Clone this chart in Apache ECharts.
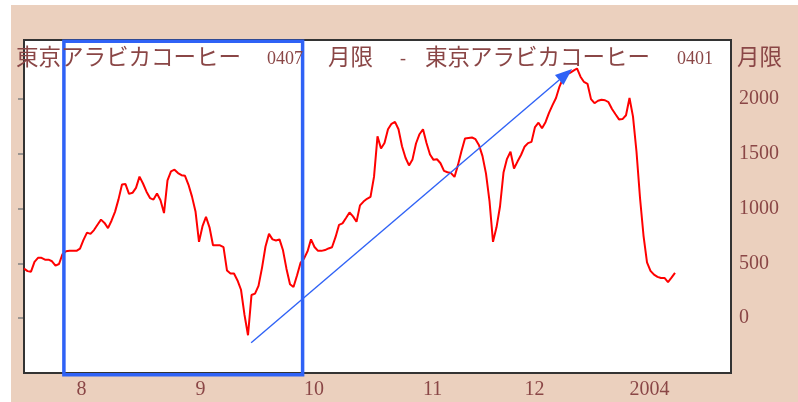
<!DOCTYPE html>
<html>
<head>
<meta charset="utf-8">
<script src="https://cdn.jsdelivr.net/npm/echarts@6/dist/echarts.min.js"></script>
<style>
html,body{margin:0;padding:0;background:#fff;}
#chart{width:798px;height:402px;}
</style>
</head>
<body>
<div id="chart"></div>
<script>
// Price series (one value per period)
const prices = [
  454, 430, 425, 515, 551, 552, 535, 535, 520, 480,
  495, 585, 612, 615, 615, 615, 636, 715, 782, 770,
  805, 853, 900, 870, 823, 890, 971, 1085, 1220, 1225,
  1135, 1145, 1190, 1293, 1230, 1155, 1097, 1083, 1138, 1077,
  960, 1258, 1340, 1356, 1325, 1306, 1300, 1218, 1110, 975,
  697, 840, 925, 830, 666, 666, 666, 650, 435, 408,
  408, 345, 260, 30, -155, 212, 225, 295, 460, 655,
  770, 720, 710, 720, 620, 450, 310, 285, 390, 505,
  545, 610, 720, 650, 615, 615, 622, 637, 648, 740,
  852, 866, 915, 965, 930, 880, 1030, 1065, 1090, 1108,
  1290, 1660, 1550, 1600, 1725, 1775, 1792, 1725, 1570, 1465,
  1395, 1450, 1595, 1680, 1725, 1600, 1495, 1446, 1451, 1415,
  1345, 1333, 1325, 1290, 1400, 1527, 1640, 1645, 1650, 1635,
  1580, 1480, 1320, 1070, 697, 830, 1020, 1330, 1455, 1520,
  1367, 1430, 1490, 1565, 1599, 1610, 1745, 1785, 1735, 1790,
  1875, 1945, 2010, 2115, 2190, 2225, 2240, 2260, 2280, 2205,
  2157, 2140, 2000, 1963, 1985, 1995, 1990, 1972, 1910, 1862,
  1815, 1818, 1853, 2010, 1840, 1520, 1100, 755, 510, 433,
  398, 378, 367, 368, 330, 370, 414
];
// x-axis: period index of each year tick and its label
const xTickPositions = [15, 49, 80, 114, 143, 173];
const xTickLabels = ['8', '9', '10', '11', '12', '2004'];
const xRange = [0, 202];
// y-axis ticks
const yTickValues = [0, 500, 1000, 1500, 2000];
const yRange = [-500, 2540];
// title pieces
const titlePieces = [
  {t: '東京アラビカコーヒー', kind: 'cjk', x: 16},
  {t: '0407', kind: 'num', x: 267},
  {t: '月限', kind: 'cjk', x: 328},
  {t: '-', kind: 'num', x: 400},
  {t: '東京アラビカコーヒー', kind: 'cjk', x: 425},
  {t: '0401', kind: 'num', x: 677},
  {t: '月限', kind: 'cjk', x: 737}
];
// annotation: box and arrow in data units
const boxX = [11.4, 79.6];
const boxY = [-517, 2528];
const arrowFrom = [64.9, -224];
const arrowTo = [156.6, 2275];

const TXT = '#8a4646';
const PEACH = '#ebd0be';
const BLUE = '#2f62f6';
const TICK = '#808080';
const numFont = 'Liberation Serif';
const cjkFont = 'Noto Sans CJK JP';

const gridPos = {left: 24, right: 67, top: 40, bottom: 29};

const chart = echarts.init(document.getElementById('chart'), null, {renderer: 'canvas'});

const option = {
  animation: false,
  backgroundColor: '#ffffff',
  grid: [
    Object.assign({show: true, backgroundColor: '#ffffff', borderColor: '#333333', borderWidth: 2, z: 1}, gridPos),
    Object.assign({show: false}, gridPos)
  ],
  xAxis: [
    {
      type: 'value', gridIndex: 0, min: xRange[0], max: xRange[1], position: 'bottom',
      axisLine: {show: false}, splitLine: {show: false},
      axisTick: {show: true, inside: true, length: 8, customValues: xTickPositions, lineStyle: {color: TICK, width: 1.5}},
      axisLabel: {
        show: true, customValues: xTickPositions, align: 'left', margin: 7,
        fontFamily: numFont, fontSize: 20, color: TXT,
        formatter: function (v) { const k = xTickPositions.indexOf(v); return k >= 0 ? xTickLabels[k] : ''; }
      }
    },
    {
      type: 'value', gridIndex: 1, min: xRange[0], max: xRange[1], position: 'bottom',
      axisLine: {show: false}, splitLine: {show: false},
      axisTick: {show: true, inside: false, length: 5, customValues: xTickPositions, lineStyle: {color: TICK, width: 1.5}},
      axisLabel: {show: false}
    }
  ],
  yAxis: [
    {
      type: 'value', gridIndex: 0, min: yRange[0], max: yRange[1], position: 'right',
      axisLine: {show: false}, splitLine: {show: false}, axisTick: {show: false},
      axisLabel: {
        show: true, customValues: yTickValues, margin: 8,
        fontFamily: numFont, fontSize: 20, color: TXT,
        formatter: function (v) { return String(v); }
      }
    },
    {
      type: 'value', gridIndex: 0, min: yRange[0], max: yRange[1], position: 'left',
      axisLine: {show: false}, splitLine: {show: false},
      axisTick: {show: true, inside: true, length: 5, customValues: yTickValues, lineStyle: {color: TICK, width: 1.5}},
      axisLabel: {show: false}
    },
    {
      type: 'value', gridIndex: 1, min: yRange[0], max: yRange[1], position: 'left',
      axisLine: {show: false}, splitLine: {show: false},
      axisTick: {show: true, inside: false, length: 6, customValues: yTickValues, lineStyle: {color: TICK, width: 1.5}},
      axisLabel: {show: false}
    }
  ],
  series: [
    {
      type: 'line', xAxisIndex: 0, yAxisIndex: 0,
      data: prices.map(function (v, i) { return [i, v]; }),
      showSymbol: false, symbol: 'none',
      lineStyle: {color: '#ff0000', width: 2},
      z: 3
    }
  ]
};

chart.setOption(option);

// decorations computed through the chart's own coordinate system
const p = function (pt) { return chart.convertToPixel({gridIndex: 0}, pt); };
const b0 = p([boxX[0], boxY[1]]);
const b1 = p([boxX[1], boxY[0]]);
const a0 = p(arrowFrom);
const a1 = p(arrowTo);
const dx = a1[0] - a0[0], dy = a1[1] - a0[1];
const len = Math.sqrt(dx * dx + dy * dy);
const ux = dx / len, uy = dy / len;
const headLen = 17, headHalf = 6.5;
const bx = a1[0] - ux * headLen, by = a1[1] - uy * headLen;

const graphics = [
  {type: 'rect', z: -10, silent: true, shape: {x: 11, y: 5, width: 787, height: 397}, style: {fill: PEACH}},
  {type: 'line', z: 50, silent: true, shape: {x1: a0[0], y1: a0[1], x2: bx, y2: by}, style: {stroke: BLUE, lineWidth: 1.4}},
  {type: 'polygon', z: 50, silent: true, shape: {points: [[a1[0], a1[1]], [bx - uy * headHalf, by + ux * headHalf], [bx + uy * headHalf, by - ux * headHalf]]}, style: {fill: BLUE}},
  {type: 'rect', z: 55, silent: true, shape: {x: b0[0], y: b0[1], width: b1[0] - b0[0], height: b1[1] - b0[1]}, style: {fill: 'none', stroke: BLUE, lineWidth: 3.5}}
];
titlePieces.forEach(function (tp) {
  graphics.push({
    type: 'text', z: 60, silent: true, x: tp.x, y: tp.kind === 'cjk' ? 56 : 59.5,
    style: {
      text: tp.t, fill: TXT,
      font: tp.kind === 'cjk' ? ('22.5px "' + cjkFont + '"') : ('18px "' + numFont + '"'),
      textAlign: 'left', textVerticalAlign: 'middle'
    }
  });
});
chart.setOption({graphic: graphics});
</script>
</body>
</html>
